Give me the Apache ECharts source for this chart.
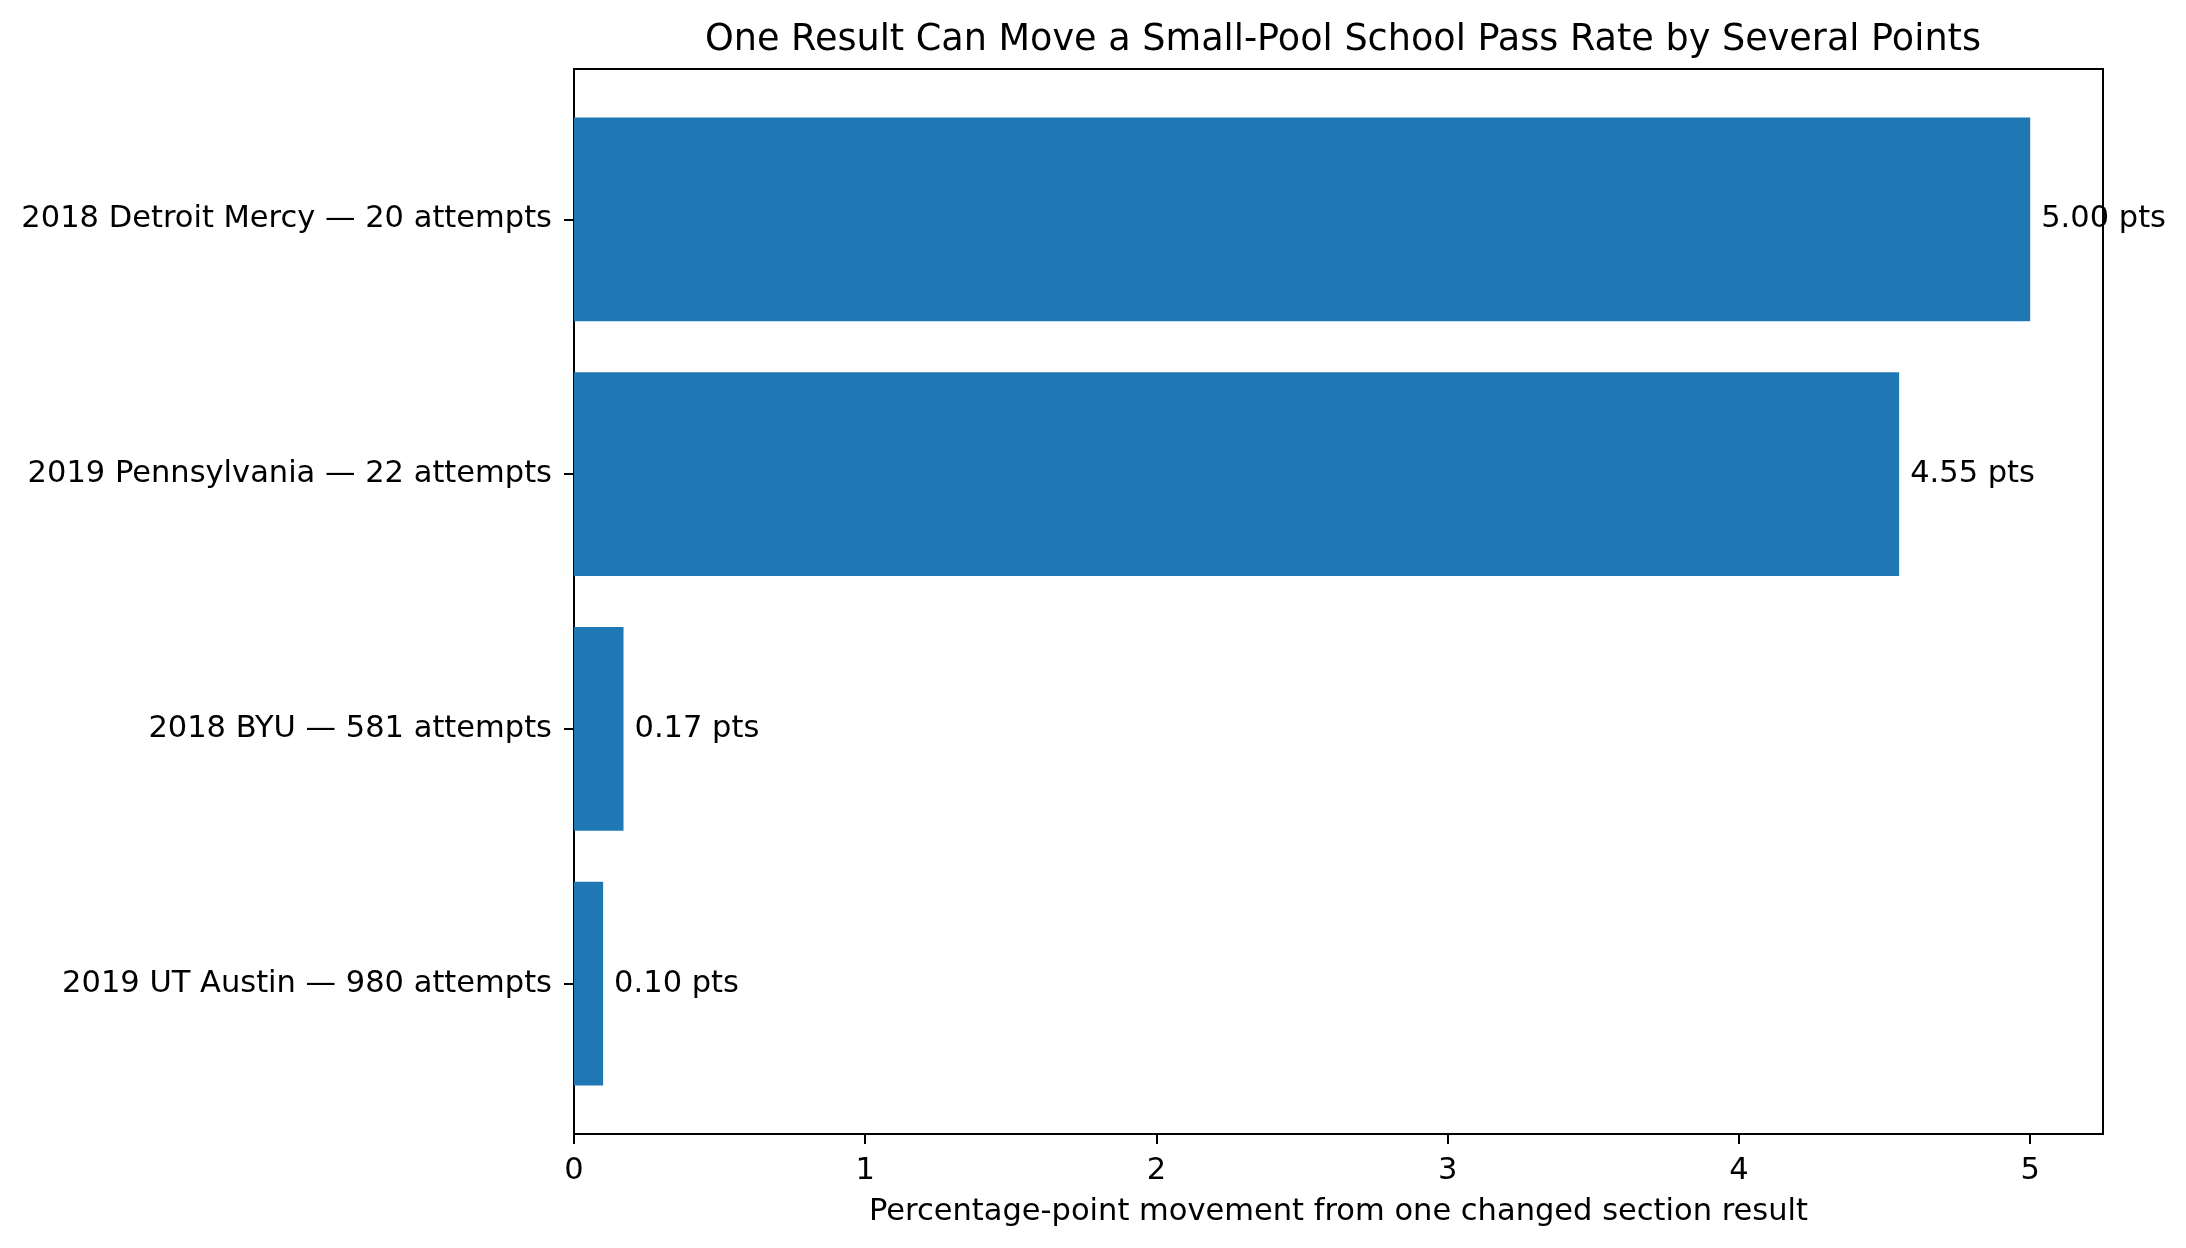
<!DOCTYPE html>
<html>
<head>
<meta charset="utf-8">
<title>Small-pool pass rate</title>
<script src="https://cdn.jsdelivr.net/npm/echarts@6/dist/echarts.min.js"></script>
<style>
    html, body { margin: 0; padding: 0; background: #fff; }
    #main { width: 2186px; height: 1248px; }
</style>
</head>
<body>
<div id="main"></div>
<script>
// bottom to top, like matplotlib barh
var schools = ['2019 UT Austin — 980 attempts', '2018 BYU — 581 attempts', '2019 Pennsylvania — 22 attempts', '2018 Detroit Mercy — 20 attempts'];
var movement = [0.10, 0.17, 4.55, 5.00];
var valueLabels = ['0.10 pts', '0.17 pts', '4.55 pts', '5.00 pts'];
var xTicks = [0, 1, 2, 3, 4, 5];
var yTicks = [0, 1, 2, 3];

var font = 'DejaVu Sans';
var myChart = echarts.init(document.getElementById('main'));

var serdata = [];
for (var i = 0; i < movement.length; i++) {
    serdata.push([movement[i], i]);
}

function renderBar(params, api) {
    var v = api.value(0);
    var y = api.value(1);
    var start = api.coord([0, y]);
    var end = api.coord([v, y]);
    var h = api.size([0, 0.8])[1];
    return {
        type: 'rect',
        shape: { x: start[0], y: start[1] - h / 2, width: end[0] - start[0], height: h },
        style: { fill: '#1f77b4' },
        textContent: {
            style: { text: valueLabels[params.dataIndex], fontSize: 30.5, fontFamily: font, fill: '#000' }
        },
        textConfig: { position: 'right', distance: 11 }
    };
}

option = {
    animation: false,
    backgroundColor: '#fff',
    title: {
        text: 'One Result Can Move a Small-Pool School Pass Rate by Several Points',
        left: 1338,
        top: 17,
        textAlign: 'center',
        textStyle: { fontFamily: font, fontSize: 36.6, fontWeight: 'normal', color: '#000' }
    },
    grid: {
        left: 574,
        right: 83,
        top: 69,
        bottom: 114,
        show: true,
        borderColor: '#000',
        borderWidth: 2
    },
    xAxis: {
        type: 'value',
        min: 0,
        max: 5.25,
        name: 'Percentage-point movement from one changed section result',
        nameLocation: 'middle',
        nameGap: 63,
        nameTextStyle: { fontFamily: font, fontSize: 30.5, color: '#000' },
        axisLine: { show: false, onZero: false },
        axisTick: { show: true, length: 10, lineStyle: { color: '#000', width: 2 }, customValues: xTicks },
        axisLabel: { fontFamily: font, fontSize: 30.5, color: '#000', margin: 22, customValues: xTicks },
        splitLine: { show: false }
    },
    yAxis: {
        type: 'value',
        min: -0.59,
        max: 3.59,
        axisLine: { show: false, onZero: false },
        axisTick: { show: true, length: 10, lineStyle: { color: '#000', width: 2 }, customValues: yTicks },
        axisLabel: {
            fontFamily: font, fontSize: 30.5, color: '#000', margin: 22, customValues: yTicks,
            formatter: function (value) {
                return schools[Math.round(value)];
            }
        },
        splitLine: { show: false }
    },
    series: [{
        type: 'custom',
        renderItem: renderBar,
        clip: false,
        data: serdata
    }]
};
myChart.setOption(option);
</script>
</body>
</html>
